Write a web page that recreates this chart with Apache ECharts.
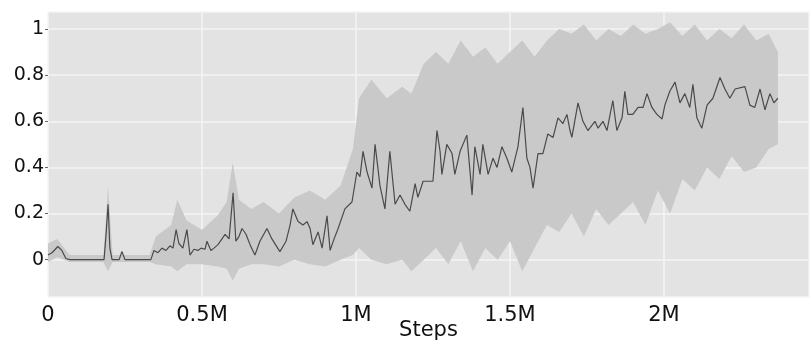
<!DOCTYPE html>
<html>
<head>
<meta charset="utf-8">
<script src="https://cdn.jsdelivr.net/npm/echarts@6/dist/echarts.min.js"></script>
<style>
  html, body { margin: 0; padding: 0; background: #fff; }
  #chart { width: 811px; height: 343px; }
</style>
</head>
<body>
<div id="chart"></div>
<script>
// steps in millions
const stepsM = [0.000, 0.013, 0.032, 0.045, 0.058, 0.071, 0.182, 0.188, 0.195, 0.201, 0.208, 0.231, 0.240, 0.250,
  0.334, 0.344, 0.357, 0.370, 0.383, 0.396, 0.406, 0.416, 0.425, 0.438, 0.451, 0.461, 0.474, 0.487, 0.497,
  0.510, 0.516, 0.529, 0.539, 0.552, 0.565, 0.575, 0.588, 0.601, 0.610, 0.620, 0.630, 0.643, 0.656, 0.672,
  0.688, 0.711, 0.727, 0.753, 0.773, 0.786, 0.795, 0.812, 0.828, 0.841, 0.851, 0.860, 0.877, 0.890, 0.906,
  0.916, 0.929, 0.942, 0.964, 0.987, 1.003, 1.013, 1.023, 1.036, 1.052, 1.062, 1.078, 1.094, 1.110, 1.127,
  1.143, 1.159, 1.175, 1.192, 1.201, 1.218, 1.250, 1.263, 1.273, 1.279, 1.295, 1.312, 1.321, 1.338, 1.360,
  1.377, 1.386, 1.403, 1.412, 1.429, 1.445, 1.458, 1.474, 1.490, 1.506, 1.526, 1.542, 1.555, 1.565, 1.575,
  1.591, 1.607, 1.623, 1.640, 1.656, 1.672, 1.685, 1.695, 1.701, 1.721, 1.737, 1.753, 1.776, 1.786, 1.802,
  1.815, 1.834, 1.847, 1.864, 1.873, 1.883, 1.899, 1.916, 1.932, 1.945, 1.961, 1.977, 1.994, 2.003, 2.019,
  2.036, 2.052, 2.068, 2.084, 2.094, 2.107, 2.123, 2.140, 2.159, 2.182, 2.198, 2.214, 2.231, 2.263, 2.279,
  2.295, 2.312, 2.328, 2.344, 2.357, 2.370];
const meanReward = [0.02, 0.03, 0.057, 0.04, 0.005, 0.0, 0.0, 0.1, 0.24, 0.05, 0.0, 0.0, 0.035, 0.0,
  0.0, 0.04, 0.03, 0.05, 0.04, 0.06, 0.05, 0.13, 0.07, 0.05, 0.13, 0.02, 0.045, 0.04, 0.05,
  0.045, 0.08, 0.04, 0.05, 0.065, 0.09, 0.11, 0.09, 0.29, 0.08, 0.10, 0.135, 0.11, 0.065, 0.02,
  0.08, 0.135, 0.09, 0.035, 0.08, 0.15, 0.22, 0.165, 0.15, 0.165, 0.135, 0.065, 0.12, 0.05, 0.19,
  0.04, 0.09, 0.135, 0.22, 0.25, 0.38, 0.36, 0.47, 0.38, 0.31, 0.50, 0.32, 0.22, 0.47, 0.24,
  0.28, 0.24, 0.21, 0.33, 0.27, 0.34, 0.34, 0.56, 0.47, 0.37, 0.50, 0.46, 0.37, 0.47, 0.54,
  0.28, 0.49, 0.37, 0.50, 0.37, 0.44, 0.40, 0.49, 0.44, 0.38, 0.49, 0.66, 0.44, 0.40, 0.31,
  0.46, 0.46, 0.545, 0.53, 0.615, 0.59, 0.63, 0.56, 0.53, 0.68, 0.60, 0.56, 0.60, 0.57, 0.60,
  0.56, 0.69, 0.56, 0.615, 0.73, 0.63, 0.63, 0.66, 0.66, 0.72, 0.66, 0.63, 0.61, 0.67, 0.73,
  0.77, 0.68, 0.72, 0.66, 0.76, 0.615, 0.57, 0.67, 0.70, 0.79, 0.74, 0.70, 0.74, 0.75, 0.67,
  0.66, 0.74, 0.65, 0.72, 0.68, 0.70];

// spread band (min / max over runs)
const bandStepsM = [0.00, 0.03, 0.07, 0.18, 0.195, 0.21, 0.33, 0.35, 0.40, 0.42, 0.45, 0.50, 0.55, 0.58,
  0.60, 0.62, 0.66, 0.70, 0.75, 0.80, 0.85, 0.90, 0.95, 0.99, 1.01, 1.05, 1.10, 1.15, 1.18, 1.22,
  1.26, 1.30, 1.34, 1.38, 1.42, 1.46, 1.50, 1.54, 1.58, 1.62, 1.66, 1.70, 1.74, 1.78, 1.82, 1.86,
  1.90, 1.94, 1.98, 2.02, 2.06, 2.10, 2.14, 2.18, 2.22, 2.26, 2.30, 2.34, 2.37];
const bandLow = [-0.01, 0.01, -0.01, -0.01, -0.05, -0.01, -0.01, -0.02, -0.03, -0.05, -0.02, -0.02, -0.03, -0.04,
  -0.09, -0.04, -0.02, -0.02, -0.03, 0.0, -0.02, -0.03, 0.0, 0.02, 0.05, 0.0, -0.02, 0.0, -0.05, 0.0,
  0.05, -0.02, 0.08, -0.05, 0.05, 0.0, 0.08, -0.05, 0.05, 0.15, 0.12, 0.2, 0.1, 0.22, 0.15, 0.2,
  0.25, 0.15, 0.3, 0.2, 0.35, 0.3, 0.4, 0.35, 0.45, 0.38, 0.4, 0.48, 0.5];
const bandHigh = [0.07, 0.09, 0.02, 0.02, 0.32, 0.02, 0.02, 0.1, 0.15, 0.26, 0.17, 0.13, 0.19, 0.25,
  0.42, 0.26, 0.22, 0.25, 0.2, 0.27, 0.3, 0.26, 0.32, 0.48, 0.7, 0.78, 0.7, 0.75, 0.72, 0.85,
  0.9, 0.85, 0.95, 0.88, 0.92, 0.85, 0.9, 0.95, 0.88, 0.95, 1.0, 0.98, 1.02, 0.95, 1.0, 0.97,
  1.02, 0.98, 1.0, 1.03, 0.97, 1.02, 0.95, 1.0, 0.96, 1.02, 0.95, 0.98, 0.9];

const yTicks = [0, 0.2, 0.4, 0.6, 0.8, 1];

const lineData = stepsM.map((s, i) => [s, meanReward[i]]);

const chart = echarts.init(document.getElementById('chart'));
chart.setOption({
  animation: false,
  backgroundColor: '#ffffff',
  grid: {
    left: 48, right: 2, top: 12, bottom: 46,
    outerBoundsMode: 'none',
    containLabel: false,
    show: true, backgroundColor: '#e3e3e3', borderWidth: 0
  },
  xAxis: {
    type: 'value',
    min: 0, max: 2.471, interval: 0.5,
    name: 'Steps',
    nameLocation: 'middle',
    nameGap: 23,
    nameMoveOverlap: false,
    nameTextStyle: { fontFamily: 'DejaVu Sans', fontSize: 21, color: '#111' },
    axisLine: { show: false },
    axisTick: { show: false },
    axisLabel: {
      margin: 8, fontFamily: 'DejaVu Sans', fontSize: 21, color: '#111',
      showMaxLabel: false,
      formatter: v => v === 0 ? '0' : v + 'M'
    },
    splitLine: { show: true, lineStyle: { color: '#f4f4f4', width: 1.5 } }
  },
  yAxis: {
    type: 'value',
    min: -0.162, max: 1.074,
    axisLine: { show: false },
    axisTick: { show: true, length: 3, lineStyle: { color: '#666' } },
    axisLabel: {
      margin: 4, fontFamily: 'DejaVu Sans', fontSize: 19, color: '#111',
      showMinLabel: false, showMaxLabel: false,
      formatter: v => yTicks.some(t => Math.abs(t - v) < 1e-6) ? String(+v.toFixed(1)) : ''
    },
    splitLine: { show: true, lineStyle: { color: '#f4f4f4', width: 1.5 } }
  },
  series: [
    {
      type: 'custom',
      silent: true,
      data: [[0]],
      renderItem: (params, api) => {
        const top = bandStepsM.map((s, i) => api.coord([s, bandHigh[i]]));
        const bottom = bandStepsM.map((s, i) => api.coord([s, bandLow[i]])).reverse();
        return {
          type: 'polygon',
          shape: { points: top.concat(bottom) },
          style: { fill: '#c9c9c9' }
        };
      },
      z: 1
    },
    {
      type: 'line',
      data: lineData,
      showSymbol: false,
      lineStyle: { color: '#4a4a4a', width: 1.2 },
      z: 3
    }
  ]
});
</script>
</body>
</html>
